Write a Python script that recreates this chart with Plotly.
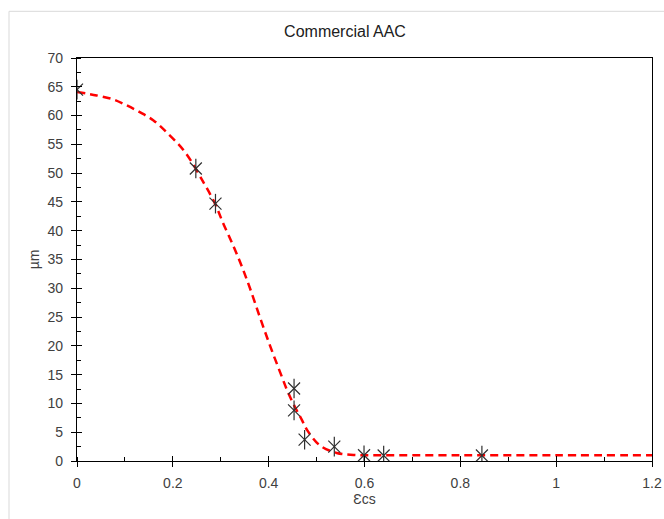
import plotly.graph_objects as go

# Measured points
meas_x = [0.0, 0.248, 0.289, 0.453, 0.453, 0.475, 0.537, 0.599, 0.640, 0.845]
meas_y = [64.5, 50.8, 44.7, 12.6, 8.8, 3.7, 2.5, 1.0, 0.95, 0.95]

# Fitted curve
fit_x = [0.0, 0.041, 0.076, 0.103, 0.131, 0.159, 0.187, 0.225, 0.264, 0.288,
         0.305, 0.326, 0.344, 0.361, 0.382, 0.403, 0.424, 0.441, 0.459, 0.469,
         0.480, 0.507, 0.542, 0.577, 0.62, 0.8, 1.0, 1.2]
fit_y = [64.1, 63.5, 62.8, 61.8, 60.6, 59.2, 57.1, 53.7, 48.4, 44.7,
         41.3, 37.4, 33.8, 30.0, 24.9, 20.0, 15.4, 11.8, 8.7, 7.2,
         5.4, 2.7, 1.4, 1.05, 1.0, 1.0, 1.0, 1.0]

title_text = "Commercial AAC"
x_title = "Ɛcs"
y_title = "µm"

FONT = "Liberation Sans"
TXT = "#404040"
MK = "#303030"

W, H = 664, 519

fig = go.Figure()
fig.add_trace(go.Scatter(x=fit_x, y=fit_y, mode="lines", line_shape="spline",
                         line=dict(color="#FF0000", width=2.5, dash="8px,5px"),
                         hoverinfo="skip", showlegend=False))
fig.add_trace(go.Scatter(x=meas_x, y=meas_y, mode="markers", showlegend=False,
                         marker=dict(symbol="x-thin-open", size=12, color=MK,
                                     line=dict(color=MK, width=1.2))))
fig.add_trace(go.Scatter(x=meas_x, y=meas_y, mode="markers", showlegend=False,
                         marker=dict(symbol="line-ns-open", size=14, color=MK,
                                     line=dict(color=MK, width=1.2))))

axis_common = dict(showgrid=False, zeroline=False)

fig.update_layout(
    width=W, height=H,
    margin=dict(l=77, r=12, t=57.5, b=57.5, autoexpand=False),
    paper_bgcolor="white", plot_bgcolor="white",
    font=dict(family=FONT, size=14, color=TXT),
    title=dict(text=title_text, x=(345 - 77) / 575, xref="paper", xanchor="center",
               y=1 - 31 / H, yanchor="middle",
               font=dict(family=FONT, size=16, color="#202020")),
    xaxis=dict(range=[0, 1.2], dtick=0.2, tick0=0, ticks="outside", ticklen=5,
               tickwidth=1, tickcolor="black", showline=True, linecolor="black",
               linewidth=1.3, mirror=True, automargin=False,
               minor=dict(dtick=0.1, ticks="inside", ticklen=4, tickcolor="black", tickwidth=1),
               title=dict(text=x_title, font=dict(size=14, color=TXT), standoff=0),
               ticklabelstandoff=4, **axis_common),
    yaxis=dict(range=[0, 70], dtick=5, tick0=0, ticks="outside", ticklen=5,
               tickwidth=1, tickcolor="black", showline=True, linecolor="black",
               linewidth=1.3, mirror=True, automargin=False,
               minor=dict(dtick=2.5, ticks="inside", ticklen=4, tickcolor="black", tickwidth=1),
               title=dict(text=y_title, font=dict(size=14, color=TXT), standoff=4),
               ticklabelstandoff=5, **axis_common),
    xaxis2=dict(range=[0, 1.2], dtick=0.2, tick0=0, ticks="inside", ticklen=5,
                tickwidth=1, tickcolor="black", overlaying="x", anchor="y",
                showticklabels=False, showline=False, automargin=False, **axis_common),
    yaxis2=dict(range=[0, 70], dtick=5, tick0=0, ticks="inside", ticklen=5,
                tickwidth=1, tickcolor="black", overlaying="y", anchor="x", side="left",
                showticklabels=False, showline=False, automargin=False, **axis_common),
)

# dummy invisible trace to activate overlay axes
fig.add_trace(go.Scatter(x=[0], y=[0], xaxis="x2", yaxis="y2", mode="markers",
                         marker=dict(opacity=0), hoverinfo="skip", showlegend=False))

# faint chart-area border
fig.add_shape(type="rect", xref="paper", yref="paper",
              x0=(9 - 77) / 575, x1=1.2, y0=-0.3, y1=(461.5 - 10.7) / 404,
              line=dict(color="#D9D9D9", width=1), fillcolor="rgba(0,0,0,0)", layer="below")

fig.write_html("out.html", config={"displayModeBar": False},
               post_script="document.body.style.margin='0';document.body.style.overflow='hidden';")
